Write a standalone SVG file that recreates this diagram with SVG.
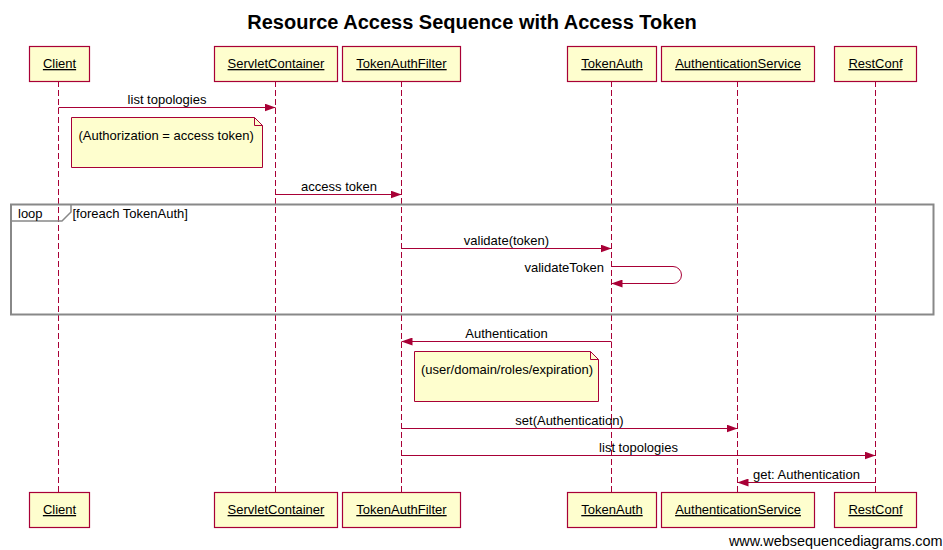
<svg xmlns="http://www.w3.org/2000/svg" width="943" height="550" viewBox="0 0 943 550">
<style>
text{font-family:"Liberation Sans",Arial,sans-serif;fill:#000}
.t{font-size:20px;font-weight:bold}
.p{font-size:13px;text-decoration:underline;text-anchor:middle}
.m{font-size:13px;text-anchor:middle}
.n{font-size:13px}
.box{fill:#FEFECE;stroke:#A80036;stroke-width:1.2}
.life{stroke:#A80036;stroke-width:1;stroke-dasharray:6,3;fill:none}
.msg{stroke:#A80036;stroke-width:1;fill:none;marker-end:url(#arr)}
.note{fill:#FEFECE;stroke:#A80036;stroke-width:1}
.frame{fill:none;stroke:#888;stroke-width:2}
</style>
<defs>
<marker id="arr" viewBox="0 0 11 8" refX="11" refY="4" markerWidth="11" markerHeight="8" orient="auto" markerUnits="userSpaceOnUse">
<path d="M0,0 L11,4 L0,8 z" fill="#A80036"/>
</marker>
</defs>
<rect width="943" height="550" fill="#fff"/>
<text class="t" x="472" y="29" text-anchor="middle">Resource Access Sequence with Access Token</text>

<g id="lifelines">
<line class="life" x1="58.5" y1="81" x2="58.5" y2="492"/>
<line class="life" x1="275.5" y1="81" x2="275.5" y2="492"/>
<line class="life" x1="401.5" y1="81" x2="401.5" y2="492"/>
<line class="life" x1="611.5" y1="81" x2="611.5" y2="492"/>
<line class="life" x1="737.5" y1="81" x2="737.5" y2="492"/>
<line class="life" x1="875.5" y1="81" x2="875.5" y2="492"/>
</g>

<g id="loop">
<rect class="frame" x="11" y="204.5" width="922.5" height="110"/>
<path d="M11,221 H62 L71,212 V204.5" fill="none" stroke="#888" stroke-width="1.5"/>
<text class="n" x="18" y="217.5">loop</text>
<text class="n" x="72.5" y="217.5">[foreach TokenAuth]</text>
</g>

<g id="Client">
<rect class="box" x="29.5" y="46.5" width="60" height="35"/>
<text class="p" x="59.5" y="68">Client</text>
<rect class="box" x="29.5" y="492.5" width="60" height="35"/>
<text class="p" x="59.5" y="514">Client</text>
</g>
<g id="ServletContainer">
<rect class="box" x="214.5" y="46.5" width="123" height="35"/>
<text class="p" x="276" y="68">ServletContainer</text>
<rect class="box" x="214.5" y="492.5" width="123" height="35"/>
<text class="p" x="276" y="514">ServletContainer</text>
</g>
<g id="TokenAuthFilter">
<rect class="box" x="342.5" y="46.5" width="118" height="35"/>
<text class="p" x="401.5" y="68">TokenAuthFilter</text>
<rect class="box" x="342.5" y="492.5" width="118" height="35"/>
<text class="p" x="401.5" y="514">TokenAuthFilter</text>
</g>
<g id="TokenAuth">
<rect class="box" x="567.5" y="46.5" width="89" height="35"/>
<text class="p" x="612" y="68">TokenAuth</text>
<rect class="box" x="567.5" y="492.5" width="89" height="35"/>
<text class="p" x="612" y="514">TokenAuth</text>
</g>
<g id="AuthenticationService">
<rect class="box" x="661.5" y="46.5" width="153" height="35"/>
<text class="p" x="738" y="68">AuthenticationService</text>
<rect class="box" x="661.5" y="492.5" width="153" height="35"/>
<text class="p" x="738" y="514">AuthenticationService</text>
</g>
<g id="RestConf">
<rect class="box" x="834.5" y="46.5" width="82" height="35"/>
<text class="p" x="875.5" y="68">RestConf</text>
<rect class="box" x="834.5" y="492.5" width="82" height="35"/>
<text class="p" x="875.5" y="514">RestConf</text>
</g>

<g id="note1">
<path class="note" d="M71.5,117.5 H254.5 L262.5,125.5 V167.5 H71.5 Z"/>
<path d="M254.5,117.5 V125.5 H262.5" fill="none" stroke="#A80036" stroke-width="1"/>
<text class="n" x="78.5" y="139.5">(Authorization = access token)</text>
</g>
<g id="note2">
<path class="note" d="M414.5,351.5 H590.5 L598.5,359.5 V401.5 H414.5 Z"/>
<path d="M590.5,351.5 V359.5 H598.5" fill="none" stroke="#A80036" stroke-width="1"/>
<text class="n" x="421" y="373.5">(user/domain/roles/expiration)</text>
</g>

<g id="connectors">
<line class="msg" x1="58.5" y1="107.5" x2="275.5" y2="107.5"/>
<text class="m" x="167" y="103.5">list topologies</text>
<line class="msg" x1="275.5" y1="194.5" x2="401.5" y2="194.5"/>
<text class="m" x="339" y="190.5">access token</text>
<line class="msg" x1="401.5" y1="248.5" x2="611.5" y2="248.5"/>
<text class="m" x="506.5" y="244.5">validate(token)</text>
<path class="msg" d="M611.5,266.5 H673 A8.5,8.5 0 0 1 673,283.5 H611.5"/>
<text class="n" x="604" y="271.5" text-anchor="end">validateToken</text>
<line class="msg" x1="611.5" y1="341.5" x2="401.5" y2="341.5"/>
<text class="m" x="506.5" y="337.5">Authentication</text>
<line class="msg" x1="401.5" y1="428.5" x2="737.5" y2="428.5"/>
<text class="m" x="569.5" y="424.5">set(Authentication)</text>
<line class="msg" x1="401.5" y1="455.5" x2="875.5" y2="455.5"/>
<text class="m" x="638.5" y="451.5">list topologies</text>
<line class="msg" x1="875.5" y1="482.5" x2="737.5" y2="482.5"/>
<text class="m" x="806.5" y="478.5">get: Authentication</text>
</g>

<text x="942.5" y="545.5" text-anchor="end" style="font-size:14.4px">www.websequencediagrams.com</text>
</svg>
